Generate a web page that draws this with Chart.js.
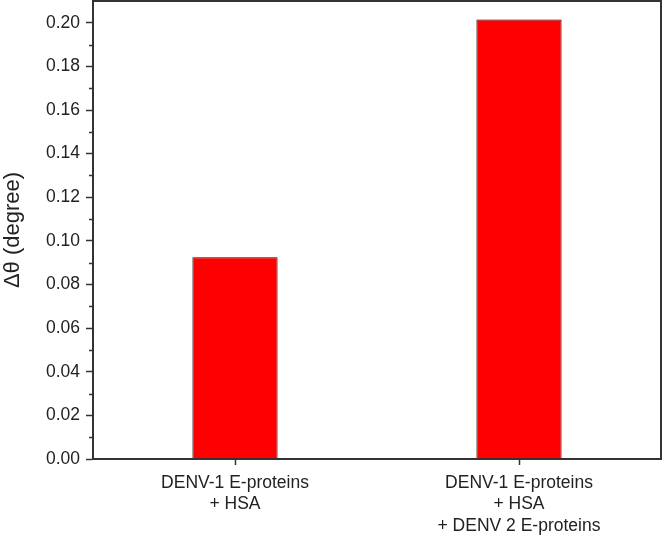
<!DOCTYPE html>
<html>
<head>
<meta charset="utf-8">
<script src="https://cdn.jsdelivr.net/npm/chart.js@4/dist/chart.umd.min.js"></script>
<style>
  html, body { margin: 0; padding: 0; background: #fff; }
  #chart { display: block; }
</style>
</head>
<body>
<canvas id="chart" width="663" height="536"></canvas>
<script>
// Datos
const categories = [
  ['DENV-1 E-proteins', '+ HSA'],
  ['DENV-1 E-proteins', '+ HSA', '+ DENV 2 E-proteins']
];
const deltaTheta = [0.0925, 0.2015];
const yTicks = [0, 0.02, 0.04, 0.06, 0.08, 0.10, 0.12, 0.14, 0.16, 0.18, 0.20];
const yMinorTicks = [0.01, 0.03, 0.05, 0.07, 0.09, 0.11, 0.13, 0.15, 0.17, 0.19];

const axisColor = '#333333';
const fontFamily = 'Arial, "Liberation Sans", sans-serif';

// marco y marcas menores
const framePlugin = {
  id: 'frame',
  afterDraw(chart) {
    const { ctx, chartArea } = chart;
    const y = chart.scales.y;
    ctx.save();
    ctx.strokeStyle = axisColor;
    ctx.lineWidth = 2;
    ctx.strokeRect(chartArea.left, chartArea.top, chartArea.right - chartArea.left, chartArea.bottom - chartArea.top);
    ctx.lineWidth = 1.5;
    ctx.beginPath();
    yMinorTicks.forEach(v => {
      const py = Math.round(y.getPixelForValue(v)) + 0.5;
      ctx.moveTo(chartArea.left - 4, py);
      ctx.lineTo(chartArea.left, py);
    });
    ctx.stroke();
    ctx.restore();
  }
};

new Chart(document.getElementById('chart').getContext('2d'), {
  type: 'bar',
  data: {
    labels: categories,
    datasets: [{
      data: deltaTheta,
      backgroundColor: '#ff0000',
      borderColor: '#1a0000',
      borderWidth: 1,
      barPercentage: 0.3,
      categoryPercentage: 1,
    }],
  },
  options: {
    responsive: false,
    animation: false,
    layout: { padding: { top: 1, right: 2, left: 0, bottom: 0 } },
    plugins: { legend: { display: false }, tooltip: { enabled: false } },
    scales: {
      x: {
        grid: { drawOnChartArea: false, offset: false, tickLength: 6, tickColor: axisColor, tickWidth: 1.5 },
        border: { color: axisColor, width: 2 },
        ticks: { color: '#222', font: { family: fontFamily, size: 17.5, lineHeight: 1.23 }, padding: 7, maxRotation: 0, autoSkip: false },
        afterFit(scale) {
          scale.height = 77;
          scale.paddingLeft = 0;
          scale.paddingRight = 0;
        },
      },
      y: {
        min: 0,
        max: 0.21,
        afterBuildTicks(scale) { scale.ticks = yTicks.map(v => ({ value: v })); },
        grid: { drawOnChartArea: false, tickLength: 7, tickColor: axisColor, tickWidth: 1.5 },
        border: { color: axisColor, width: 2 },
        ticks: { color: '#222', font: { family: fontFamily, size: 17.5 }, padding: 6, callback: v => v.toFixed(2) },
        title: { display: true, text: 'Δθ (degree)', color: '#222', font: { family: fontFamily, size: 22 }, padding: { top: 0, bottom: 0 } },
        afterFit(scale) {
          scale.width = 93;
          scale.paddingTop = 0;
          scale.paddingBottom = 0;
        },
      },
    },
  },
  plugins: [framePlugin],
});
</script>
</body>
</html>
